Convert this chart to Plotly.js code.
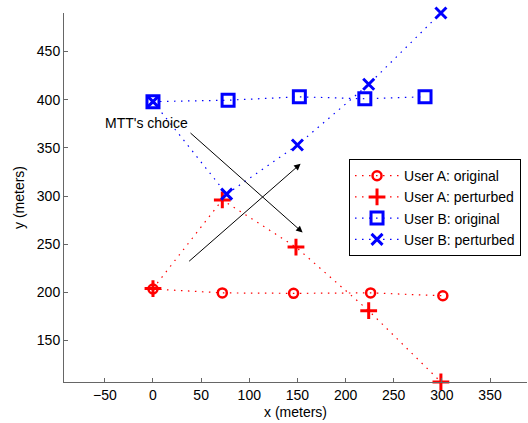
<!DOCTYPE html>
<html>
<head>
<meta charset="utf-8">
<script src="https://cdn.plot.ly/plotly-3.0.1.min.js"></script>
<style>html,body{margin:0;padding:0;background:#fff;}#chart{width:528px;height:423px;}</style>
</head>
<body>
<div id="chart"></div>
<script>
var seriesNames = ["User A: original", "User A: perturbed", "User B: original", "User B: perturbed"];
var aOrigX = [0, 72, 146, 226, 301];
var aOrigY = [203.5, 199.5, 199, 199.5, 196.5];
var aPertX = [0, 72, 148.5, 224, 299];
var aPertY = [204, 296, 247, 181, 107];
var bOrigX = [0, 78, 152, 220, 282.5];
var bOrigY = [398, 399.5, 403, 401, 403];
var bPertX = [0, 76.5, 150, 224, 299];
var bPertY = [398, 302, 353, 416, 490];
var xTicks = [-50, 0, 50, 100, 150, 200, 250, 300, 350];
var yTicks = [150, 200, 250, 300, 350, 400, 450];
var noteText = "MTT's choice";
var noteX = -6.5, noteY = 376;
var arrow1 = {fromX: 37.4, fromY: 366.8, toX: 155.4, toY: 262.2};
var arrow2 = {fromX: 36, fromY: 231, toX: 153.3, toY: 333.5};

var FONT = "'Liberation Sans', Arial, Helvetica, sans-serif";
var RED = "#ff0000", BLUE = "#0000ff";
var DASH = "1.5px,5.5px";

function tr(x, y, name, color, symbol, size, lw) {
  return {
    x: x, y: y, name: name, type: "scatter", mode: "lines+markers",
    cliponaxis: false,
    line: {color: color, width: 1.2, dash: DASH},
    marker: {symbol: symbol, size: size, color: color, line: {color: color, width: lw}}
  };
}

var data = [
  tr(aOrigX, aOrigY, seriesNames[0], RED, "circle-open", 9, 2.5),
  tr(aPertX, aPertY, seriesNames[1], RED, "cross-thin-open", 12, 3),
  tr(bOrigX, bOrigY, seriesNames[2], BLUE, "square-open", 12, 3),
  tr(bPertX, bPertY, seriesNames[3], BLUE, "x-thin-open", 11, 3)
];

function arr(a) {
  return {x: a.toX, y: a.toY, ax: a.fromX, ay: a.fromY, xref: "x", yref: "y",
    axref: "x", ayref: "y", showarrow: true, text: "", arrowhead: 2,
    arrowsize: 1.3, arrowwidth: 1, arrowcolor: "#000", standoff: 0, startstandoff: 0};
}

var layout = {
  width: 528, height: 423,
  margin: {l: 64, r: 1, t: 13.3, b: 40.7},
  paper_bgcolor: "#fff", plot_bgcolor: "#fff",
  font: {family: FONT, size: 14, color: "#000"},
  showlegend: true,
  legend: {x: 0.6156, y: 0.604, xanchor: "left", yanchor: "top",
    bordercolor: "#000", borderwidth: 1, bgcolor: "#fff", itemwidth: 44,
    font: {family: FONT, size: 14, color: "#000"}, tracegroupgap: 0},
  xaxis: {range: [-92.4, 388.4], tickvals: xTicks, ticks: "inside", ticklen: 4,
    tickcolor: "#666", showline: true, linecolor: "#666", linewidth: 1,
    showgrid: false, zeroline: false, mirror: false,
    tickfont: {family: FONT, size: 14, color: "#000"},
    title: {text: "x (meters)", font: {family: FONT, size: 14, color: "#000"}, standoff: 5}},
  yaxis: {range: [107, 490], tickvals: yTicks, ticks: "inside", ticklen: 4,
    tickcolor: "#666", showline: true, linecolor: "#666", linewidth: 1,
    showgrid: false, zeroline: false, mirror: false,
    tickfont: {family: FONT, size: 14, color: "#000"},
    title: {text: "y (meters)", font: {family: FONT, size: 14, color: "#000"}, standoff: 8}},
  annotations: [
    {x: noteX, y: noteY, xref: "x", yref: "y", text: noteText, showarrow: false,
      font: {family: FONT, size: 14, color: "#000"}, xanchor: "center", yanchor: "middle"},
    arr(arrow1), arr(arrow2)
  ]
};

Plotly.newPlot("chart", data, layout, {displayModeBar: false, staticPlot: true});
</script>
</body>
</html>
